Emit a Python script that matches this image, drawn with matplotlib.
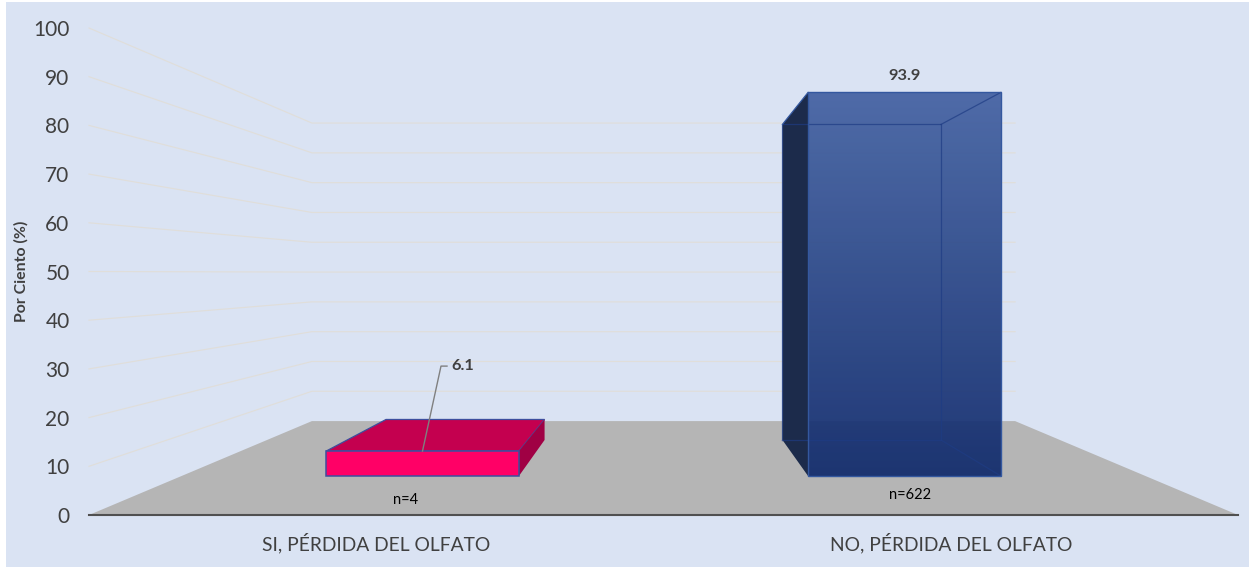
import numpy as np
import matplotlib
matplotlib.use("Agg")
import matplotlib.pyplot as plt
from matplotlib.patches import Polygon, Rectangle

categories = ["SI, PÉRDIDA DEL OLFATO", "NO, PÉRDIDA DEL OLFATO"]
values = [6.1, 93.9]
counts = ["n=4", "n=622"]
yticks = list(range(0, 101, 10))

W, H = 1249, 567
plt.rcParams["font.family"] = ["Lato", "DejaVu Sans"]
TXT = "#404040"
BG = "#DAE3F3"

fig = plt.figure(figsize=(W / 100, H / 100), dpi=100, facecolor="white")
fig.patches.append(Rectangle((6 / W, 0), 1 - 6 / W, 1 - 2 / H, transform=fig.transFigure,
                             facecolor=BG, edgecolor="none", zorder=-10))
ax = fig.add_axes([89 / W, 1 - 515 / H, (1238 - 89) / W, (515 - 28) / H])
ax.patch.set_alpha(0)
ax.set_xlim(0, 2)
ax.set_ylim(0, 100)

# one-point perspective of the 3D chart: depth k shrinks towards the vanishing point
VP = (1.0, 49.7)
K_WALL, K_FRONT, K_BACK = 0.388, 0.161, 0.31
WIDTH = 0.4


def proj(x, y, k):
    return (VP[0] + (x - VP[0]) * (1 - k), VP[1] + (y - VP[1]) * (1 - k))


# floor
ax.add_patch(Polygon([proj(0, 0, 0), proj(2, 0, 0), proj(2, 0, K_WALL), proj(0, 0, K_WALL)],
                     facecolor="#B5B5B5", edgecolor="none", zorder=1))
# gridlines on side and back walls
for v in yticks[1:]:
    p0, p1, p2 = proj(0, v, 0), proj(0, v, K_WALL), proj(2, v, K_WALL)
    ax.plot([p0[0], p1[0], p2[0]], [p0[1], p1[1], p2[1]], color="#E0DEDA", lw=0.85, zorder=0.5,
            clip_on=False)

EDGE_P = "#3D4F9E"
# pink bar
cx = 0.5
l, r, v = cx - WIDTH / 2, cx + WIDTH / 2, values[0]
ax.add_patch(Polygon([proj(l, v, K_FRONT), proj(r, v, K_FRONT), proj(r, v, K_BACK), proj(l, v, K_BACK)],
                     facecolor="#C4004F", edgecolor=EDGE_P, lw=0.9, zorder=3))
ax.add_patch(Polygon([proj(r, 0, K_FRONT), proj(r, v, K_FRONT), proj(r, v, K_BACK), proj(r, 0, K_BACK)],
                     facecolor="#A00044", edgecolor="none", zorder=3))
ax.add_patch(Polygon([proj(l, 0, K_FRONT), proj(r, 0, K_FRONT), proj(r, v, K_FRONT), proj(l, v, K_FRONT)],
                     facecolor="#FF0066", edgecolor=EDGE_P, lw=1.1, zorder=4))
# leader line and its label
a = proj(cx, v, K_FRONT)
elbow = (a[0] + 18.5 / 574.5, a[1] + 85 / 4.87)
end = (elbow[0] + 6 / 574.5, elbow[1])
ax.plot([a[0], elbow[0], end[0]], [a[1], elbow[1], end[1]], color="#808080", lw=1, zorder=5)
ax.annotate(f"{values[0]:.1f}", end, xytext=(3, 0), textcoords="offset points", ha="left", va="center",
            fontsize=11.8, fontweight="bold", color=TXT, zorder=6)
ax.annotate(counts[0], proj(cx, 0, K_FRONT), xytext=(-12, -17), textcoords="offset points",
            ha="center", va="center", fontsize=10.5, color="black", zorder=6)

# blue bar (translucent box)
cx = 1.5
l, r, v = cx - WIDTH / 2, cx + WIDTH / 2, values[1]
ax.add_patch(Polygon([proj(l, 0, K_FRONT), proj(l, v, K_FRONT), proj(l, v, K_BACK), proj(l, 0, K_BACK)],
                     facecolor="#1C2B4B", edgecolor="none", zorder=3))
ll, bb = proj(l, 0, K_FRONT)
rr, tt = proj(r, v, K_FRONT)
top_c = np.array([0x44, 0x62, 0xA2]) / 255
bot_c = np.array([0x11, 0x2B, 0x6C]) / 255
t = np.linspace(0, 1, 128)[:, None]
grad = np.dstack([top_c[i] + (bot_c[i] - top_c[i]) * t for i in range(3)] + [np.full_like(t, 0.93)])
ax.imshow(grad, extent=[ll, rr, bb, tt], origin="upper", aspect="auto", zorder=3.5,
          interpolation="bilinear")
ax.set_xlim(0, 2)
ax.set_ylim(0, 100)
EDGE_B = "#1E3C84"
ax.add_patch(Rectangle((ll, bb), rr - ll, tt - bb, fill=False, edgecolor="#34589F", lw=1.0, zorder=5))
corners = [proj(l, 0, K_BACK), proj(r, 0, K_BACK), proj(r, v, K_BACK), proj(l, v, K_BACK)]
xs = [c[0] for c in corners] + [corners[0][0]]
ys = [c[1] for c in corners] + [corners[0][1]]
ax.plot(xs, ys, color=EDGE_B, lw=0.9, alpha=0.7, zorder=4.5)
ax.plot(*zip(proj(r, v, K_BACK), proj(r, v, K_FRONT)), color=EDGE_B, lw=0.9, alpha=0.7, zorder=4.5)
ax.plot(*zip(proj(r, 0, K_BACK), proj(r, 0, K_FRONT)), color=EDGE_B, lw=0.9, alpha=0.7, zorder=4.5)
ax.plot(*zip(proj(l, v, K_BACK), proj(l, v, K_FRONT)), color="#34589F", lw=0.9, zorder=4.5)
ax.annotate(f"{values[1]:.1f}", proj(cx, v, K_FRONT), xytext=(0, 12), textcoords="offset points",
            ha="center", va="center", fontsize=11.8, fontweight="bold", color=TXT, zorder=6)
ax.annotate(counts[1], proj(cx, 0, K_FRONT), xytext=(4, -14), textcoords="offset points",
            ha="center", va="center", fontsize=10.5, color="black", zorder=6)

# axes
for s in ("top", "right", "left"):
    ax.spines[s].set_visible(False)
ax.spines["bottom"].set_color("#505050")
ax.spines["bottom"].set_linewidth(1.5)
ax.spines["bottom"].set_zorder(6)
ax.set_yticks(yticks)
ax.set_yticklabels([str(y) for y in yticks], fontsize=15, color=TXT)
ax.tick_params(axis="y", length=0, pad=14)
ax.set_xticks([0.5, 1.5])
ax.set_xticklabels(categories, fontsize=13.85, color=TXT)
ax.tick_params(axis="x", length=0, pad=13)
fig.text(21 / W, 1 - 271 / H, "Por Ciento (%)", rotation=90, ha="center", va="center",
         fontsize=11.4, fontweight="bold", color=TXT)

fig.savefig("out.png", dpi=100, facecolor="white")
